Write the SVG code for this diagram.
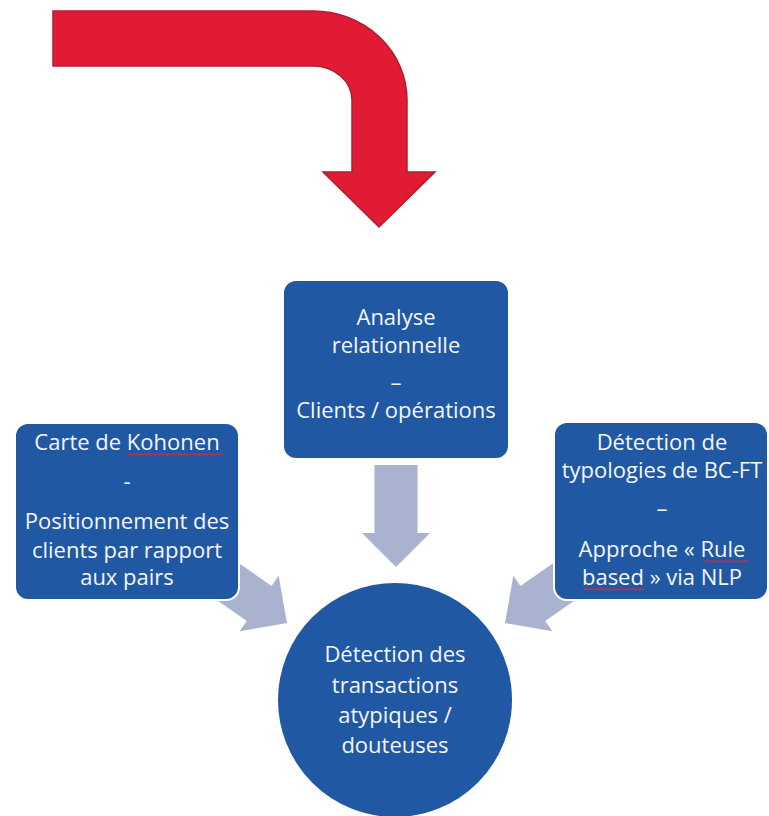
<svg xmlns="http://www.w3.org/2000/svg" width="769" height="816" viewBox="0 0 769 816">
  <style>
    .node { fill: #2158A4; stroke: #ffffff; stroke-width: 2; }
    .lbl { font-family: "Open Sans", "Liberation Sans", sans-serif; font-size: 22px; fill: #F4F6FA; text-anchor: middle; }
    .flow { fill: #A9B3D0; }
    .spell { fill: none; stroke: #C0304A; stroke-width: 1.2; }
  </style>
  <defs>
    <polygon id="grayArrow" points="-102,-21.5 -34,-21.5 -34,-34 0,0 -34,34 -34,21.5 -102,21.5"/>
  </defs>
  <rect width="769" height="816" fill="#ffffff"/>

  <g id="red-arrow">
    <path d="M53,11 H313 A94,89 0 0 1 407,100 V172 H435 L379,227 L323,172 H352 V100 A39,34 0 0 0 313,66 H53 Z" fill="#E01B33" stroke="#B01C30" stroke-width="1.5" stroke-linejoin="miter"/>
  </g>

  <g id="connectors">
    <use href="#grayArrow" class="flow" transform="translate(396,567) rotate(90)"/>
    <use href="#grayArrow" class="flow" transform="translate(287,623) rotate(35)"/>
    <use href="#grayArrow" class="flow" transform="translate(505,623) rotate(145)"/>
  </g>

  <g id="node-analyse">
    <rect class="node" x="283" y="280" width="226" height="179" rx="13"/>
    <text class="lbl" x="396" y="325">Analyse</text>
    <text class="lbl" x="396" y="353">relationnelle</text>
    <text class="lbl" x="396" y="390">–</text>
    <text class="lbl" x="396" y="418">Clients / opérations</text>
  </g>

  <g id="node-kohonen">
    <rect class="node" x="15" y="423" width="224" height="177" rx="13"/>
    <text class="lbl" x="127" y="450">Carte de Kohonen</text>
    <path class="spell" d="M127,455 l2,-1.5 l2,1.5 l2,-1.5 l2,1.5 l2,-1.5 l2,1.5 l2,-1.5 l2,1.5 l2,-1.5 l2,1.5 l2,-1.5 l2,1.5 l2,-1.5 l2,1.5 l2,-1.5 l2,1.5 l2,-1.5 l2,1.5 l2,-1.5 l2,1.5 l2,-1.5 l2,1.5 l2,-1.5 l2,1.5 l2,-1.5 l2,1.5 l2,-1.5 l2,1.5 l2,-1.5 l2,1.5 l2,-1.5 l2,1.5 l2,-1.5 l2,1.5 l2,-1.5 l2,1.5 l2,-1.5 l2,1.5 l2,-1.5 l2,1.5 l2,-1.5 l2,1.5 l2,-1.5 l2,1.5 l2,-1.5 l2,1.5 l2,-1.5 l2,1.5"/>
    <text class="lbl" x="127" y="489">-</text>
    <text class="lbl" x="127" y="529">Positionnement des</text>
    <text class="lbl" x="127" y="558">clients par rapport</text>
    <text class="lbl" x="127" y="585">aux pairs</text>
  </g>

  <g id="node-typologies">
    <rect class="node" x="554" y="422" width="214" height="178" rx="13"/>
    <text class="lbl" x="662" y="450">Détection de</text>
    <text class="lbl" x="662" y="478">typologies de BC-FT</text>
    <text class="lbl" x="662" y="516">–</text>
    <text class="lbl" x="662" y="557">Approche « Rule</text>
    <path class="spell" d="M704,562 l2,-1.5 l2,1.5 l2,-1.5 l2,1.5 l2,-1.5 l2,1.5 l2,-1.5 l2,1.5 l2,-1.5 l2,1.5 l2,-1.5 l2,1.5 l2,-1.5 l2,1.5 l2,-1.5 l2,1.5 l2,-1.5 l2,1.5 l2,-1.5 l2,1.5 l2,-1.5 l2,1.5"/>
    <text class="lbl" x="662" y="585">based » via NLP</text>
    <path class="spell" d="M584,590 l2,-1.5 l2,1.5 l2,-1.5 l2,1.5 l2,-1.5 l2,1.5 l2,-1.5 l2,1.5 l2,-1.5 l2,1.5 l2,-1.5 l2,1.5 l2,-1.5 l2,1.5 l2,-1.5 l2,1.5 l2,-1.5 l2,1.5 l2,-1.5 l2,1.5 l2,-1.5 l2,1.5 l2,-1.5 l2,1.5 l2,-1.5 l2,1.5 l2,-1.5 l2,1.5 l2,-1.5 l2,1.5"/>
  </g>

  <g id="node-detection">
    <circle class="node" cx="395" cy="700" r="118"/>
    <text class="lbl" x="395" y="662">Détection des</text>
    <text class="lbl" x="395" y="693">transactions</text>
    <text class="lbl" x="395" y="723">atypiques /</text>
    <text class="lbl" x="395" y="753">douteuses</text>
  </g>
</svg>
